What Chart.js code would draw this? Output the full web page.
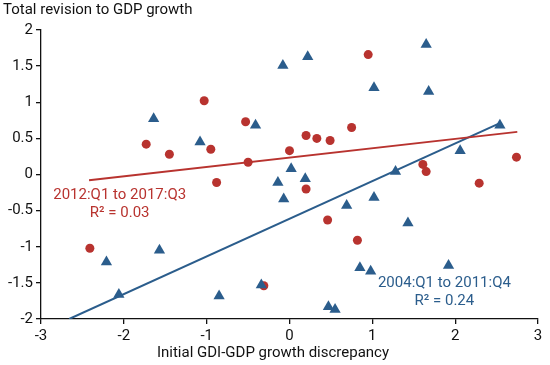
<!DOCTYPE html>
<html>
<head>
<meta charset="utf-8">
<script src="https://cdn.jsdelivr.net/npm/chart.js@4"></script>
<style>
  html, body { margin: 0; padding: 0; background: #fff; }
  #wrap { width: 550px; height: 365px; }
</style>
</head>
<body>
<div id="wrap"><canvas id="myChart"></canvas></div>
<script>
// 2012:Q1 to 2017:Q3 (red circles)
const redX = [-2.41, -1.73, -1.45, -1.03, -0.95, -0.88, -0.53, -0.50, -0.31, 0.00, 0.20, 0.20,
              0.33, 0.49, 0.46, 0.75, 0.82, 0.95, 1.61, 1.65, 2.29, 2.74];
const redY = [-1.02, 0.42, 0.28, 1.02, 0.35, -0.11, 0.73, 0.17, -1.54, 0.33, 0.54, -0.20,
              0.50, 0.47, -0.63, 0.65, -0.91, 1.66, 0.14, 0.04, -0.12, 0.24];

// 2004:Q1 to 2011:Q4 (blue triangles)
const blueX = [-1.64, -1.08, -0.41, -0.08, 0.22, 1.65, 1.02, 1.68, 2.54, 2.06, 0.02, 1.28,
               -0.14, 0.19, -0.07, 0.69, 1.02, 1.43, 0.85, 0.98, 1.92, 0.47, 0.55, -2.21,
               -1.57, -2.06, -0.85, -0.34];
const blueY = [0.77, 0.45, 0.68, 1.51, 1.63, 1.80, 1.20, 1.15, 0.68, 0.33, 0.08, 0.04,
               -0.11, -0.06, -0.34, -0.43, -0.32, -0.67, -1.29, -1.34, -1.26, -1.83, -1.87, -1.21,
               -1.05, -1.66, -1.68, -1.53];

// regression lines (end points)
const redFitX = [-2.42, 2.75];
const redFitY = [-0.08, 0.59];
const blueFitX = [-2.66, 2.54];
const blueFitY = [-2.0, 0.71];

const xTicks = [-3, -2, -1, 0, 1, 2, 3];
const yTicks = [-2, -1.5, -1, -0.5, 0, 0.5, 1, 1.5, 2];

const RED = '#b8332f';
const BLUE = '#2b5d8c';
const FONT = 'Roboto, "Liberation Sans", sans-serif';

function pts(xs, ys) {
    return xs.map((x, i) => ({ x: x, y: ys[i] }));
}

Chart.defaults.font.family = FONT;
Chart.defaults.font.size = 15;
Chart.defaults.color = '#111';

// text labels + x axis title
const labelsPlugin = {
    id: 'labels',
    afterDatasetsDraw(chart) {
        const ctx = chart.ctx;
        const xs = chart.scales.x, ys = chart.scales.y;
        ctx.save();
        ctx.font = '15px ' + FONT;
        ctx.textAlign = 'center';
        ctx.textBaseline = 'middle';
        ctx.fillStyle = RED;
        ctx.fillText('2012:Q1 to 2017:Q3', xs.getPixelForValue(-2.05), ys.getPixelForValue(-0.29));
        ctx.fillText('R\u00B2 = 0.03', xs.getPixelForValue(-2.05), ys.getPixelForValue(-0.54));
        ctx.fillStyle = BLUE;
        ctx.fillText('2004:Q1 to 2011:Q4', xs.getPixelForValue(1.87), ys.getPixelForValue(-1.50));
        ctx.fillText('R\u00B2 = 0.24', xs.getPixelForValue(1.87), ys.getPixelForValue(-1.75));
        ctx.fillStyle = '#111';
        ctx.fillText('Initial GDI-GDP growth discrepancy', 273, 353);
        ctx.restore();
    }
};

const config = {
    type: 'scatter',
    data: {
        datasets: [
            {
                label: '2004:Q1 to 2011:Q4',
                data: pts(blueX, blueY),
                pointStyle: 'triangle',
                pointRadius: 6.5,
                backgroundColor: BLUE,
                borderColor: BLUE,
                borderWidth: 0
            },
            {
                label: '2012:Q1 to 2017:Q3',
                data: pts(redX, redY),
                pointStyle: 'circle',
                pointRadius: 4.5,
                backgroundColor: RED,
                borderColor: RED,
                borderWidth: 0
            },
            {
                type: 'line',
                label: 'fit 2012-2017',
                data: pts(redFitX, redFitY),
                borderColor: RED,
                borderWidth: 2,
                pointRadius: 0,
                fill: false
            },
            {
                type: 'line',
                label: 'fit 2004-2011',
                data: pts(blueFitX, blueFitY),
                borderColor: BLUE,
                borderWidth: 2,
                pointRadius: 0,
                fill: false
            }
        ]
    },
    options: {
        responsive: true,
        maintainAspectRatio: false,
        animation: false,
        layout: { padding: { left: 3, right: 12, top: 0, bottom: 0 } },
        plugins: {
            legend: { display: false },
            tooltip: { enabled: false },
            title: {
                display: true,
                text: 'Total revision to GDP growth',
                align: 'start',
                color: '#111',
                font: { size: 15, weight: 'normal' },
                padding: { top: 1, bottom: 11 }
            }
        },
        scales: {
            x: {
                type: 'linear',
                min: -3,
                max: 3,
                afterBuildTicks: s => { s.ticks = xTicks.map(v => ({ value: v })); },
                afterFit: s => { s.height = 46; },
                border: { display: true, color: '#111', width: 1.3 },
                grid: { display: true, drawOnChartArea: false, tickLength: 5, color: '#111', lineWidth: 1.3 },
                ticks: { padding: 3, color: '#111', font: { size: 15 }, callback: v => String(v) }
            },
            y: {
                type: 'linear',
                min: -2,
                max: 2,
                afterBuildTicks: s => { s.ticks = yTicks.map(v => ({ value: v })); },
                afterFit: s => { s.width = 38; },
                border: { display: true, color: '#111', width: 1.3 },
                grid: { display: true, drawOnChartArea: false, tickLength: 5, color: '#111', lineWidth: 1.3 },
                ticks: { padding: 3, color: '#111', font: { size: 15 }, callback: v => String(v) }
            }
        }
    },
    plugins: [labelsPlugin]
};

var myChart = new Chart(document.getElementById('myChart'), config);
</script>
</body>
</html>
